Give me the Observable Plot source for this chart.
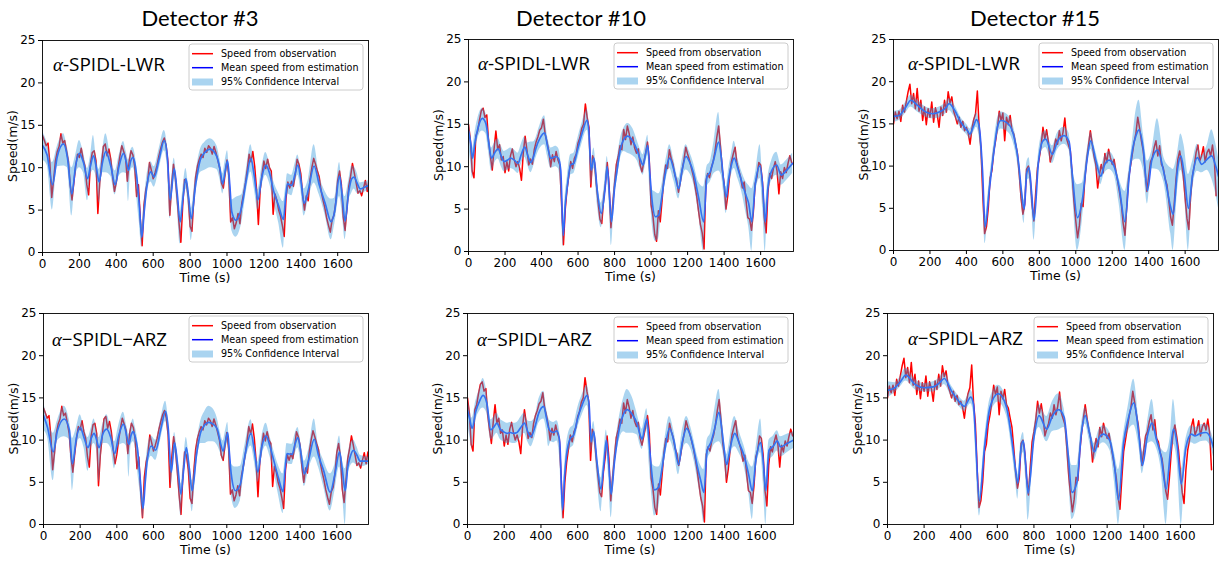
<!DOCTYPE html>
<html>
<head>
<meta charset="utf-8">
<script src="https://cdn.jsdelivr.net/npm/d3@7"></script>
<script src="https://cdn.jsdelivr.net/npm/@observablehq/plot@0.6"></script>
<style>
  html, body { margin: 0; padding: 0; background: #fff; }
  #root { position: relative; width: 1231px; height: 562px; overflow: hidden; background: #fff; }
</style>
</head>
<body>
<div id="root"></div>
<script>
// ---------------- labels & ticks ----------------
const detectorTitles = ["Detector #3", "Detector #10", "Detector #15"];
const modelNames = ["α-SPIDL-LWR", "α−SPIDL−ARZ"];
const legendLabels = ["Speed from observation", "Mean speed from estimation", "95% Confidence Interval"];
const xTicks = [0, 200, 400, 600, 800, 1000, 1200, 1400, 1600];
const yTicks = [0, 5, 10, 15, 20, 25];
const xLabel = "Time (s)";
const yLabel = "Speed(m/s)";

// ---------------- observed speed (same for both models), sampled every 10 s ----------------
const obsTime = [0,10,20,30,40,50,60,70,80,90,100,110,120,130,140,150,160,170,180,190,200,210,220,230,240,250,260,270,280,290,300,310,320,330,340,350,360,370,380,390,400,410,420,430,440,450,460,470,480,490,500,510,520,530,540,550,560,570,580,590,600,610,620,630,640,650,660,670,680,690,700,710,720,730,740,750,760,770,780,790,800,810,820,830,840,850,860,870,880,890,900,910,920,930,940,950,960,970,980,990,1000,1010,1020,1030,1040,1050,1060,1070,1080,1090,1100,1110,1120,1130,1140,1150,1160,1170,1180,1190,1200,1210,1220,1230,1240,1250,1260,1270,1280,1290,1300,1310,1320,1330,1340,1350,1360,1370,1380,1390,1400,1410,1420,1430,1440,1450,1460,1470,1480,1490,1500,1510,1520,1530,1540,1550,1560,1570,1580,1590,1600,1610,1620,1630,1640,1650,1660,1670,1680,1690,1700,1710,1720,1730,1740,1750,1760,1770];

const det3Obs = [13.8,13.2,12.6,12.9,10.5,6.5,8.5,10.8,11.9,12.5,
14.0,12.9,13.2,12.0,10.8,8.0,6.2,8.3,10.2,11.6,
11.2,12.3,11.0,10.2,8.0,6.8,10.5,11.8,12.0,10.8,
4.6,8.2,10.4,12.5,12.8,11.4,12.2,11.0,8.9,7.2,
8.3,10.0,11.4,12.6,11.9,11.2,8.4,10.8,12.0,11.5,
10.1,6.6,8.0,4.0,0.8,5.6,7.4,8.4,10.6,9.7,
8.7,9.4,10.2,11.3,12.2,13.0,13.5,12.6,10.6,4.4,
8.0,10.4,8.8,6.3,3.5,1.2,5.6,8.6,8.2,6.5,
3.1,2.5,6.3,8.9,10.2,11.0,11.6,11.2,12.3,11.8,
12.6,12.3,11.6,12.5,11.8,10.9,10.0,8.2,7.6,9.3,
10.9,9.0,3.6,4.1,2.8,3.5,4.6,3.4,5.8,6.9,
8.2,9.8,11.6,10.7,11.9,10.2,7.5,3.3,7.4,9.2,
10.8,9.9,11.0,10.0,9.6,4.5,6.9,6.2,5.0,4.3,
3.2,1.9,6.4,8.3,7.6,8.4,7.8,9.2,11.0,10.4,
9.3,6.8,5.0,6.7,6.1,8.6,10.0,11.1,10.4,9.6,
8.9,7.3,6.2,5.3,4.1,3.2,2.4,3.9,4.4,6.0,
8.5,9.6,8.0,4.2,2.6,5.2,7.8,9.0,10.5,9.4,
8.2,7.0,7.3,6.7,7.6,8.5,7.2,8.6];

const det10Obs = [15.0,13.2,9.5,8.7,13.6,14.2,15.5,16.6,16.9,15.8,
16.1,13.0,11.2,9.6,12.1,14.2,12.0,12.6,10.8,11.2,
9.3,10.6,9.5,11.3,12.1,10.9,10.0,10.6,9.8,8.4,
11.6,13.6,12.0,10.2,10.9,10.3,12.0,12.9,13.5,14.3,
14.6,15.6,13.8,12.9,11.8,10.0,11.4,10.6,11.8,10.8,
10.2,5.5,0.8,5.0,7.4,9.0,10.6,9.8,11.0,11.5,
12.8,13.4,14.5,15.0,17.4,15.8,14.6,7.6,11.3,10.5,
8.0,5.8,3.8,3.3,6.2,8.0,10.5,7.8,2.8,5.6,
8.0,10.3,11.2,12.5,12.0,14.4,13.2,14.8,13.9,12.6,
13.5,12.2,11.6,12.1,10.2,9.4,10.5,11.6,12.9,10.8,
5.5,4.2,2.0,1.2,4.8,3.5,6.0,8.6,10.2,9.8,
12.0,11.0,10.3,9.0,8.4,7.0,8.2,9.6,10.8,12.3,
11.5,10.8,9.9,9.0,7.8,6.5,4.8,3.2,2.2,0.3,
8.3,9.2,8.7,9.9,10.6,11.8,13.5,14.8,12.4,9.6,
8.0,5.0,6.6,8.9,10.6,11.5,12.3,10.4,9.6,8.8,
7.5,8.2,6.0,4.0,3.8,2.5,4.6,8.0,8.8,10.5,
10.2,8.2,4.0,2.2,7.0,9.2,8.6,9.8,10.6,9.5,
6.8,9.4,8.6,9.9,9.3,10.4,11.3,10.5];

const det15Obs = [15.0,16.4,15.6,16.5,15.3,17.2,16.4,17.6,18.8,19.7,
17.4,18.6,16.8,19.2,16.5,17.8,15.4,17.0,14.9,16.8,
15.8,17.6,15.2,16.9,16.1,14.6,17.0,16.0,17.8,16.4,
18.8,17.5,18.2,16.5,15.8,15.0,15.8,14.6,15.3,14.2,
14.6,13.9,12.6,14.4,15.5,16.2,18.9,14.5,12.0,6.5,
2.0,2.8,5.0,8.6,9.5,11.8,13.0,14.5,16.5,15.4,
16.3,13.0,15.8,14.9,16.0,14.2,13.8,12.6,11.5,9.0,
6.2,4.3,5.5,9.6,10.0,8.5,5.5,3.5,6.8,9.8,
11.0,12.4,14.6,13.2,14.3,12.8,10.5,11.3,12.0,13.2,
12.6,14.2,13.0,14.0,15.7,13.2,12.5,11.8,9.0,5.8,
3.5,1.5,3.0,5.6,5.2,8.6,10.8,12.5,14.2,12.6,
11.2,10.2,7.4,9.0,10.2,9.2,11.5,10.4,12.0,11.0,
10.2,10.8,9.4,8.2,6.9,5.5,3.2,1.8,5.4,8.6,
10.0,11.4,12.8,13.9,15.8,14.5,13.0,11.8,9.5,7.0,
8.8,10.5,11.0,12.2,13.0,11.2,12.4,10.2,9.8,8.5,
7.8,6.0,4.0,3.0,5.5,8.5,10.8,11.8,10.4,8.8,
6.2,3.8,2.5,6.4,8.8,10.0,11.6,12.5,10.6,11.2,
12.3,10.5,11.6,12.0,11.2,12.5,10.8,6.5];

// ---------------- α-SPIDL-LWR, detector #3 ----------------
const lwr3Time = [0,25,54,80,114,135,159,180,200,222,244,260,276,292,307,325,343,370,394,415,439,455,466,478,490,500,511,525,538,552,565,587,605,632,660,676,692,714,730,746,762,777,792,806,830,855,880,909,945,962,977,990,1003,1015,1026,1048,1080,1105,1129,1148,1167,1190,1210,1230,1252,1280,1306,1318,1328,1351,1368,1384,1400,1418,1442,1472,1500,1532,1565,1583,1610,1625,1640,1660,1676,1689,1705,1722,1745,1767];
const lwr3Mean = [12.6,11.5,8.0,11.3,12.8,11.2,6.9,10.3,11.7,10.6,8.7,10.2,11.4,10.0,8.3,10.6,11.9,10.2,8.0,10.2,11.7,10.6,9.7,10.8,11.2,10.6,8.9,5.5,1.8,5.0,7.7,9.5,8.9,11.0,13.2,11.5,6.2,9.9,7.0,3.6,6.5,8.7,6.5,4.0,8.0,10.9,11.8,12.2,11.3,9.8,8.1,9.6,10.8,8.0,4.8,3.8,5.4,8.6,11.1,9.0,6.2,9.0,10.3,9.4,7.3,5.5,3.9,6.5,8.1,7.9,9.2,10.3,8.6,5.8,7.5,10.2,8.0,5.8,3.6,4.8,9.0,6.5,3.7,7.2,8.7,8.9,8.2,7.5,7.7,7.9];
const lwr3Lower = [10.9,10.3,5.0,10.1,10.2,10.0,4.3,9.1,10.0,9.4,6.1,9.0,9.7,8.8,5.8,9.4,9.4,9.0,6.8,9.0,9.4,9.3,6.0,9.6,10.0,9.4,6.5,3.5,0.6,3.8,6.5,8.3,7.7,9.8,12.0,10.3,4.0,8.7,5.5,1.0,5.3,7.5,5.0,1.4,6.8,9.4,9.7,10.0,9.8,8.6,6.9,8.4,9.6,6.0,2.6,1.8,3.5,7.2,9.5,7.5,5.0,7.8,9.1,8.2,6.1,3.5,0.5,5.3,6.9,6.7,8.0,9.1,7.4,4.3,6.3,8.2,6.8,4.4,1.5,3.2,6.6,4.5,1.5,6.0,7.0,7.5,7.0,6.9,7.1,7.3];
const lwr3Upper = [14.3,13.0,10.6,12.5,14.0,12.4,10.0,11.5,13.2,11.8,9.9,11.4,13.8,11.2,9.8,12.0,14.0,11.4,9.6,11.4,13.1,11.8,10.9,12.0,12.4,11.8,10.1,6.7,3.3,6.2,8.9,10.7,10.1,12.2,14.4,12.7,7.4,11.1,8.2,4.8,7.7,9.9,7.7,5.2,9.2,12.1,13.0,13.4,12.6,11.0,9.3,10.8,12.0,9.2,6.2,6.5,6.8,9.8,12.7,10.2,7.4,10.2,11.8,10.6,8.5,7.0,6.0,7.7,9.3,9.1,10.4,11.5,9.8,7.5,8.7,12.7,9.2,7.2,6.3,6.4,10.6,7.7,6.6,8.5,10.2,10.1,9.4,8.2,8.3,8.5];

// ---------------- α-SPIDL-LWR, detector #10 ----------------
const lwr10Time = [0,12,22,35,49,76,95,110,126,145,162,180,195,215,231,250,271,290,308,325,341,355,368,390,417,432,441,450,465,477,492,505,519,530,541,559,577,596,620,650,659,672,687,705,727,747,760,771,783,800,814,832,850,872,900,924,942,956,970,982,994,1005,1024,1042,1056,1069,1085,1102,1125,1151,1170,1191,1212,1233,1260,1288,1306,1324,1345,1370,1385,1397,1412,1424,1440,1455,1475,1497,1520,1534,1552,1570,1597,1612,1625,1640,1660,1688,1712,1743,1775];
const lwr10Mean = [14.2,12.8,11.0,12.8,14.3,15.7,15.1,13.0,11.0,11.7,12.1,11.2,10.6,10.8,11.0,10.8,10.4,11.5,12.3,11.3,10.5,11.1,12.1,13.3,14.0,12.5,11.6,11.0,11.1,11.2,11.0,9.6,1.9,5.5,7.6,10.2,10.4,11.9,13.8,15.5,14.3,9.6,11.0,7.2,4.5,7.2,10.0,7.0,3.5,7.5,9.6,12.1,13.2,13.6,13.0,11.9,10.8,10.2,11.5,12.5,9.0,6.1,4.1,4.3,6.0,8.0,10.0,11.0,9.6,7.4,9.6,11.2,10.5,9.2,6.4,3.5,8.8,9.4,11.0,12.9,11.0,8.4,6.4,8.4,10.2,11.0,9.8,8.2,6.6,5.7,3.5,7.8,10.1,7.5,3.5,7.5,9.5,10.2,9.0,9.6,10.4];
const lwr10Lower = [12.8,10.5,8.6,11.6,13.1,14.2,13.9,11.8,9.5,10.5,10.9,10.0,9.4,9.6,9.8,9.6,9.2,10.3,11.1,10.1,9.3,9.9,10.9,12.1,12.6,11.3,10.4,9.8,9.9,10.0,9.8,7.5,0.5,4.3,6.4,9.0,9.2,10.7,12.6,14.3,13.1,7.8,9.8,5.6,2.8,6.0,8.8,5.5,0.7,6.3,8.4,10.9,11.8,11.6,11.3,10.7,9.6,9.0,10.3,11.3,7.0,3.5,1.2,1.5,4.5,6.8,8.8,9.8,8.3,6.2,8.4,9.6,9.2,8.0,4.5,0.0,7.6,8.2,9.2,9.5,9.0,7.0,4.5,7.2,9.0,9.8,8.6,7.0,4.5,3.0,0.0,6.6,8.6,5.0,0.0,6.3,8.3,9.0,7.8,8.4,9.2];
const lwr10Upper = [15.5,14.0,12.2,14.0,15.5,16.9,16.3,14.2,12.2,12.9,13.3,12.4,11.8,12.0,12.2,12.0,11.6,12.7,13.5,12.8,12.9,12.9,13.3,14.8,16.0,13.7,12.8,12.2,12.3,12.4,12.2,10.8,3.1,6.7,8.8,11.4,11.6,13.1,15.0,16.8,15.5,10.8,12.2,8.4,5.7,8.4,11.2,8.2,4.7,8.7,10.8,13.3,14.5,15.1,14.5,13.1,12.0,11.4,12.7,13.7,10.2,7.3,7.0,6.8,7.5,9.2,11.2,12.6,10.8,8.6,10.8,12.6,11.7,10.4,8.2,7.6,10.0,10.6,13.0,16.4,13.0,9.6,7.6,9.6,11.5,13.0,11.0,9.4,8.2,7.8,7.4,9.0,12.6,8.7,5.5,8.7,10.7,11.7,10.2,10.8,11.6];

// ---------------- α-SPIDL-LWR, detector #15 ----------------
const lwr15Time = [0,31,68,95,132,177,214,260,287,305,333,369,406,419,440,455,470,488,503,525,552,570,589,634,662,686,702,717,731,744,757,771,795,817,835,872,899,936,963,982,1009,1036,1064,1082,1110,1137,1155,1183,1210,1238,1270,1293,1311,1330,1347,1371,1393,1417,1448,1484,1521,1534,1558,1576,1594,1618,1640,1667,1691,1720,1746,1765,1783];
const lwr15Mean = [15.9,16.0,17.0,17.8,17.2,16.4,16.2,16.5,16.9,17.4,16.7,15.2,14.2,13.8,14.8,15.5,14.7,9.6,2.8,7.1,11.9,14.6,15.4,14.9,13.4,10.4,7.0,4.9,9.2,9.8,7.0,3.6,10.4,12.9,13.2,11.4,12.9,13.6,12.9,8.8,3.9,6.0,11.1,13.0,10.7,8.8,10.0,10.7,10.0,7.5,3.4,8.8,11.9,13.6,14.3,11.9,7.1,10.7,11.9,9.2,5.1,4.3,9.6,11.2,9.2,5.0,8.8,11.0,10.2,10.8,11.2,10.2,8.8];
const lwr15Lower = [15.2,15.4,16.3,17.0,16.4,15.8,15.6,15.8,16.2,16.6,15.9,14.5,13.6,13.2,14.0,14.6,13.5,8.0,0.8,6.1,10.9,13.6,14.4,13.9,12.4,9.4,5.5,3.2,8.2,8.5,5.5,1.2,9.4,11.9,12.2,10.3,11.9,12.6,11.9,7.0,0.0,3.5,10.1,12.0,9.7,7.8,9.0,9.6,9.0,5.5,0.0,7.5,10.5,10.8,10.8,9.5,5.5,9.7,9.6,8.0,2.0,0.0,7.0,9.5,7.5,0.0,7.0,9.4,9.2,9.5,8.5,7.0,5.0];
const lwr15Upper = [16.5,16.6,17.6,18.4,17.8,17.0,16.8,17.1,17.5,18.0,17.3,15.8,14.8,14.4,15.5,16.3,15.4,10.6,3.8,8.1,12.9,15.6,16.4,15.9,14.4,11.4,8.0,5.9,10.4,11.0,8.0,4.6,11.4,13.9,14.2,12.4,13.9,14.6,13.9,9.8,7.8,8.0,12.1,14.0,11.7,9.8,11.0,11.7,11.0,8.5,7.0,9.8,13.0,16.5,17.8,13.8,10.6,11.8,15.6,11.0,9.8,9.6,11.5,13.8,12.5,9.0,10.5,12.6,11.2,12.4,14.3,13.0,11.0];

// ---------------- α-SPIDL-ARZ, detector #3 ----------------
const arz3Time = [0,22,53,76,113,140,158,180,200,221,243,260,276,290,303,325,345,367,388,410,436,455,466,478,490,500,512,527,543,555,566,588,612,640,666,680,697,715,732,750,765,779,795,811,835,857,880,902,925,948,965,980,993,1005,1014,1024,1047,1074,1100,1132,1150,1169,1192,1214,1235,1256,1282,1307,1318,1328,1356,1372,1388,1405,1423,1446,1477,1500,1528,1564,1590,1615,1630,1646,1660,1673,1691,1710,1728,1773];
const arz3Mean = [12.9,11.5,8.6,11.1,12.5,11.3,7.2,10.3,11.5,10.3,9.1,10.2,10.8,10.0,9.1,10.8,11.3,10.3,8.4,10.5,11.9,10.4,9.5,10.6,11.0,10.4,9.1,5.5,1.9,5.0,7.6,9.3,8.8,11.3,13.4,11.5,6.2,9.7,7.0,3.6,6.6,9.1,6.7,4.0,8.3,10.9,11.8,12.1,11.9,11.3,9.7,8.7,9.9,10.9,8.5,6.0,4.0,4.8,8.3,10.8,8.8,6.2,9.3,10.5,9.3,7.6,5.5,3.9,6.5,8.4,8.3,9.5,10.3,8.4,6.0,7.6,10.1,8.2,6.4,3.8,6.0,8.6,6.5,4.0,6.8,8.0,8.8,8.2,7.5,7.5];
const arz3Lower = [11.2,10.3,5.2,9.9,10.4,10.1,4.0,9.1,10.2,9.1,6.3,9.0,9.6,8.8,5.0,9.6,9.6,9.1,6.6,9.3,9.6,9.2,5.6,9.4,9.8,9.2,6.6,3.8,0.7,3.8,6.4,8.1,7.6,10.1,12.2,10.3,4.5,8.5,5.5,1.0,5.4,7.9,5.2,1.5,7.1,9.6,9.6,9.8,9.8,9.4,8.5,7.5,8.7,9.7,6.5,3.5,1.9,2.8,7.1,9.3,7.5,5.0,8.1,9.3,8.1,6.4,3.5,1.3,5.3,7.2,7.1,8.3,9.1,7.2,4.5,6.4,8.0,6.8,4.5,1.6,4.0,6.8,4.2,0.0,5.6,6.8,7.3,7.0,6.8,7.1];
const arz3Upper = [14.5,12.7,10.8,12.3,14.0,12.5,10.2,11.5,13.0,11.5,10.3,11.4,12.5,11.2,10.3,12.0,13.0,11.5,9.8,11.7,13.3,11.6,10.7,11.8,12.5,11.6,10.3,6.7,3.1,6.2,8.8,10.5,10.0,12.5,14.6,12.7,7.4,10.9,8.2,4.8,7.8,10.3,7.9,5.2,9.5,12.2,13.4,14.0,13.7,12.6,10.9,9.9,11.1,12.1,9.7,7.2,6.8,6.9,9.5,12.4,10.0,7.4,10.5,12.0,10.5,8.8,7.0,6.0,7.7,9.6,9.5,10.7,11.5,9.6,7.5,8.8,12.5,9.4,7.6,6.0,7.2,10.5,7.7,6.6,8.0,9.5,10.0,9.2,8.2,8.0];

// ---------------- α-SPIDL-ARZ, detector #10 ----------------
const arz10Time = [0,12,25,45,65,85,105,127,145,160,178,196,215,233,250,270,290,310,328,345,365,388,415,430,442,455,469,487,502,518,528,538,560,578,600,625,651,662,673,687,705,727,742,756,769,782,800,829,850,869,895,924,940,951,965,976,990,1003,1018,1040,1056,1072,1100,1125,1149,1170,1193,1215,1235,1251,1270,1287,1305,1325,1345,1369,1385,1398,1411,1425,1440,1455,1480,1505,1530,1551,1570,1596,1610,1624,1642,1665,1687,1704,1740,1775];
const arz10Mean = [13.5,12.5,11.4,13.4,14.6,15.3,14.4,11.2,11.6,12.0,11.3,11.0,10.8,10.9,10.8,10.9,11.5,12.0,11.0,10.4,11.4,13.2,14.0,12.6,11.4,11.0,10.9,11.1,9.8,1.7,5.5,8.0,10.2,10.6,12.6,14.2,15.3,14.2,9.8,11.0,7.4,4.2,7.0,10.0,7.2,3.6,7.4,11.6,13.1,13.6,13.1,11.9,10.6,10.1,11.6,12.5,9.5,6.2,4.1,4.4,6.2,8.5,11.4,9.8,7.1,9.8,11.4,10.4,8.6,6.9,5.2,3.8,8.8,9.7,11.3,13.3,11.2,8.8,7.1,8.4,10.0,10.8,9.6,8.2,6.0,4.0,7.6,9.7,7.5,4.0,8.8,9.3,9.9,9.2,9.6,10.0];
const arz10Lower = [12.0,10.5,9.0,12.2,13.4,13.8,13.2,10.0,10.4,10.8,10.1,9.8,9.6,9.7,9.6,9.7,10.3,10.8,9.8,9.2,10.2,12.0,12.5,11.2,9.2,9.8,9.7,9.9,7.8,0.5,4.3,6.8,9.0,9.4,11.4,13.0,14.1,12.8,8.5,9.8,5.6,1.5,5.8,8.8,5.5,0.8,6.2,10.2,11.0,10.8,10.8,10.6,9.4,8.9,10.4,11.3,7.0,3.5,1.0,1.8,4.8,7.3,10.0,8.6,5.9,8.6,9.6,9.0,7.4,5.5,3.0,0.2,7.6,8.5,9.5,9.8,9.2,7.5,5.2,7.2,8.8,9.2,8.4,7.0,4.0,0.6,6.4,8.5,5.0,0.0,7.6,8.1,8.7,8.0,8.5,9.0];
const arz10Upper = [15.2,13.8,12.6,14.6,16.0,17.3,15.8,12.4,12.8,13.2,12.5,12.2,12.0,12.1,12.0,12.1,12.7,13.2,12.3,12.2,12.6,14.8,15.8,13.8,12.6,12.2,12.1,12.3,11.0,2.9,6.7,9.2,11.4,11.8,13.8,15.4,16.5,15.4,11.0,12.2,8.6,5.5,8.2,11.2,8.4,4.8,8.6,13.0,15.0,16.0,15.2,13.1,11.8,11.3,12.8,13.7,10.7,7.4,6.9,6.8,7.5,9.7,12.8,11.0,8.3,11.2,12.8,11.6,9.8,8.2,7.0,6.5,10.0,10.9,13.5,16.0,13.2,10.0,8.3,9.6,11.8,12.8,11.0,9.4,7.5,6.8,8.8,12.5,8.7,5.5,10.0,10.5,11.1,10.4,10.7,11.0];

// ---------------- α-SPIDL-ARZ, detector #15 ----------------
const arz15Time = [0,40,70,100,150,200,250,285,310,350,390,420,455,470,480,502,530,560,605,650,680,698,712,730,742,755,768,800,828,870,900,935,965,985,1008,1035,1060,1080,1105,1130,1155,1180,1215,1240,1262,1290,1315,1345,1375,1392,1420,1445,1470,1495,1522,1545,1562,1582,1605,1630,1660,1680,1710,1740,1765,1781];
const arz15Mean = [15.9,16.2,16.9,17.7,16.6,16.2,16.3,16.8,17.3,15.8,14.6,14.0,15.1,14.2,10.7,2.8,9.1,13.9,15.5,13.9,9.9,6.8,4.9,9.1,9.9,7.2,3.7,10.3,12.9,11.3,12.8,13.6,12.7,8.8,3.8,5.0,10.9,12.9,10.7,8.6,10.2,10.7,9.9,7.0,2.9,9.7,12.5,14.4,10.3,7.0,10.5,12.0,10.0,8.0,4.2,8.5,11.3,9.5,4.8,9.1,10.7,10.5,10.8,10.9,10.2,9.1];
const arz15Lower = [15.0,15.6,16.3,17.0,16.0,15.7,15.7,16.1,16.6,15.1,14.0,13.4,14.3,13.2,9.2,1.0,8.1,12.9,14.5,12.9,8.8,5.5,3.0,8.0,8.5,5.5,0.5,9.3,11.5,9.8,11.0,11.2,11.5,7.0,0.6,2.5,9.9,11.9,9.7,7.6,9.2,9.7,8.8,5.0,0.0,8.5,11.0,11.8,9.0,6.0,9.5,9.8,9.0,6.5,0.0,7.0,9.5,7.5,0.0,8.1,9.7,9.5,9.8,9.9,9.2,8.0];
const arz15Upper = [16.9,16.8,17.5,18.5,17.2,16.7,16.9,17.4,18.0,16.4,15.2,14.6,15.9,15.0,11.7,3.8,10.1,14.9,16.5,14.9,10.9,7.8,5.9,10.1,10.9,8.2,4.7,11.3,14.2,12.8,14.5,15.5,13.7,9.8,7.0,7.0,11.9,13.9,11.7,9.6,11.2,11.7,10.9,8.5,6.5,10.8,14.0,17.2,12.0,8.5,12.0,14.8,11.0,9.0,8.5,10.5,14.8,11.0,6.5,10.1,11.7,11.5,11.8,11.9,11.2,10.1];

// x-axis extent of each panel (seconds)
const xMaxByPanel = [1767, 1780, 1783, 1773, 1775, 1781];

// ---------------- layout ----------------
const panels = [
  {fl: 42, ft: 40, fw: 326, fh: 212, model: 0, t: lwr3Time, m: lwr3Mean, lo: lwr3Lower, hi: lwr3Upper, obs: det3Obs, leg: [189, 44], lab: [53, 71]},
  {fl: 468, ft: 39, fw: 325, fh: 212, model: 0, t: lwr10Time, m: lwr10Mean, lo: lwr10Lower, hi: lwr10Upper, obs: det10Obs, leg: [614, 43], lab: [478, 70]},
  {fl: 893, ft: 39, fw: 325, fh: 211, model: 0, t: lwr15Time, m: lwr15Mean, lo: lwr15Lower, hi: lwr15Upper, obs: det15Obs, leg: [1039, 43], lab: [908, 70]},
  {fl: 43, ft: 313, fw: 325, fh: 211, model: 1, t: arz3Time, m: arz3Mean, lo: arz3Lower, hi: arz3Upper, obs: det3Obs, leg: [189, 316], lab: [52, 346]},
  {fl: 467, ft: 313, fw: 326, fh: 211, model: 1, t: arz10Time, m: arz10Mean, lo: arz10Lower, hi: arz10Upper, obs: det10Obs, leg: [614, 317], lab: [477, 346]},
  {fl: 887, ft: 313, fw: 326, fh: 211, model: 1, t: arz15Time, m: arz15Mean, lo: arz15Lower, hi: arz15Upper, obs: det15Obs, leg: [1034, 317], lab: [908, 345]}
];

const root = document.getElementById("root");
const ML = 40, MR = 6, MT = 6, MB = 24;
const bandFill = "#3498db", bandOpacity = 0.42;

panels.forEach((p, k) => {
  const est = p.t.map((t, i) => ({t, m: p.m[i], lo: p.lo[i], hi: p.hi[i]}));
  const ob = obsTime.map((t, i) => ({t, v: p.obs[i]}));
  const svg = Plot.plot({
    width: ML + p.fw + MR,
    height: MT + p.fh + MB,
    marginLeft: ML, marginRight: MR, marginTop: MT, marginBottom: MB,
    style: {background: "transparent", fontFamily: "'DejaVu Sans', sans-serif", fontSize: "12px", color: "#000", overflow: "visible"},
    x: {domain: [0, xMaxByPanel[k]]},
    y: {domain: [0, 25]},
    marks: [
      Plot.line(ob, {x: "t", y: "v", stroke: "#ff0000", strokeWidth: 1.5, strokeLinejoin: "round", clip: true}),
      Plot.line(est, {x: "t", y: "m", stroke: "#3558ff", strokeWidth: 1.7, curve: "monotone-x", clip: true}),
      Plot.areaY(est, {x: "t", y1: "lo", y2: "hi", fill: bandFill, fillOpacity: bandOpacity, curve: "monotone-x", clip: true}),
      Plot.frame({stroke: "#000", strokeWidth: 0.9}),
      Plot.axisX({ticks: xTicks, tickSize: 4, tickPadding: 3, label: null, tickFormat: d => String(d)}),
      Plot.axisY({ticks: yTicks, tickSize: 4, tickPadding: 3, label: null, tickFormat: d => String(d)})
    ]
  });
  svg.style.position = "absolute";
  svg.style.left = (p.fl - ML) + "px";
  svg.style.top = (p.ft - MT) + "px";
  root.appendChild(svg);
});

// ---------------- overlay text: titles, axis labels, model names, legends ----------------
const ov = d3.select(root).append("svg")
  .attr("width", 1231).attr("height", 562)
  .style("position", "absolute").style("left", "0px").style("top", "0px");

const titleX = [200, 581, 1035];
detectorTitles.forEach((s, i) => {
  ov.append("text").attr("x", titleX[i]).attr("y", 26)
    .attr("text-anchor", "middle").style("font-family", "Lato, 'Open Sans', sans-serif")
    .style("font-size", "22px").attr("fill", "#000").text(s);
});

panels.forEach(p => {
  ov.append("text").attr("x", p.fl + p.fw / 2).attr("y", p.ft + p.fh + 30)
    .attr("text-anchor", "middle").style("font-family", "'DejaVu Sans', sans-serif")
    .style("font-size", "12.5px").attr("fill", "#000").text(xLabel);
  const yx = p.fl - 25.5, yy = p.ft + p.fh / 2;
  ov.append("text").attr("transform", `translate(${yx},${yy}) rotate(-90)`)
    .attr("text-anchor", "middle").style("font-family", "'DejaVu Sans', sans-serif")
    .style("font-size", "12.5px").attr("fill", "#000").text(yLabel);

  const name = modelNames[p.model];
  const tx = ov.append("text").attr("x", p.lab[0]).attr("y", p.lab[1])
    .style("font-family", "'Open Sans', sans-serif").style("font-size", "18.5px").attr("fill", "#000")
    .attr("textLength", p.model === 0 ? 112 : 115).attr("lengthAdjust", "spacingAndGlyphs");
  tx.append("tspan").style("font-family", "'Liberation Serif', serif").style("font-style", "italic").text(name.slice(0, 1));
  tx.append("tspan").text(name.slice(1));

  const [lx, ly] = p.leg;
  const g = ov.append("g").attr("transform", `translate(${lx},${ly})`);
  g.append("rect").attr("x", 0).attr("y", 0).attr("width", 174).attr("height", 46)
    .attr("rx", 3).attr("fill", "#fff").attr("fill-opacity", 0.85).attr("stroke", "#cccccc").attr("stroke-width", 1);
  const rowY = [9.7, 23.7, 38];
  g.append("line").attr("x1", 3).attr("x2", 24).attr("y1", rowY[0]).attr("y2", rowY[0]).attr("stroke", "#ff0000").attr("stroke-width", 1.5);
  g.append("line").attr("x1", 3).attr("x2", 24).attr("y1", rowY[1]).attr("y2", rowY[1]).attr("stroke", "#0000ff").attr("stroke-width", 1.5);
  g.append("rect").attr("x", 3).attr("y", rowY[2] - 3.5).attr("width", 21).attr("height", 7)
    .attr("fill", bandFill).attr("fill-opacity", bandOpacity);
  legendLabels.forEach((s, i) => {
    g.append("text").attr("x", 32).attr("y", rowY[i] + 3.4)
      .style("font-family", "'DejaVu Sans', sans-serif").style("font-size", "9.6px").attr("fill", "#000").text(s);
  });
});
</script>
</body>
</html>
